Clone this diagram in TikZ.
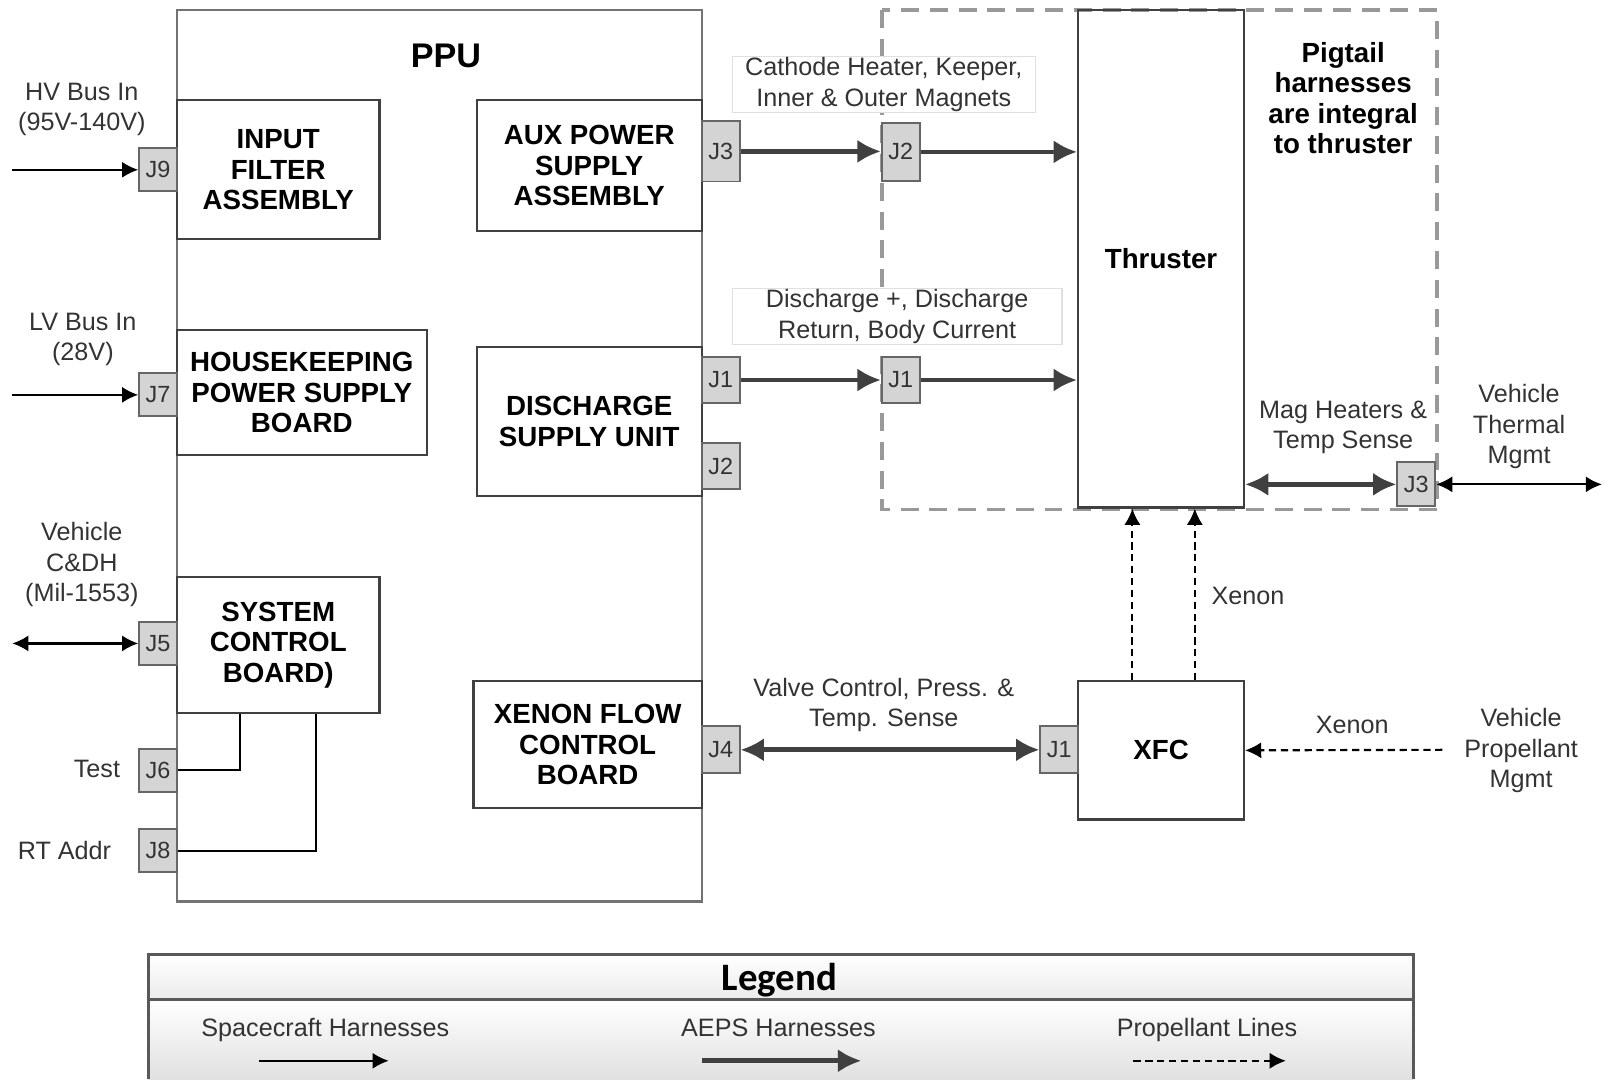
\documentclass[tikz,border=0pt]{standalone}
\usepackage{fontspec}
\setmainfont{Liberation Sans}
\newfontfamily\legendfont{Carlito}
\usetikzlibrary{arrows.meta}

\tikzset{
  board/.style={draw=black!75, line width=0.6pt, align=center, inner sep=0pt,
    font=\fontsize{7.7}{8.5}\selectfont\bfseries},
  jack/.style={draw=black!60, fill=black!17, line width=0.5pt, inner sep=0pt,
    minimum width=0.37cm, minimum height=0.42cm,
    font=\fontsize{6.5}{7}\selectfont, text=black!80},
  lbl/.style={align=center, inner sep=0pt, font=\fontsize{7}{8.5}\selectfont, text=black!80},
  lblbox/.style={lbl, draw=black!12, fill=white, line width=0.4pt},
  harness/.style={line width=0.6pt, -{Latex[length=4.5pt,width=4.5pt]}},
  harnessboth/.style={line width=0.6pt, {Latex[length=4.5pt,width=4.5pt]}-{Latex[length=4.5pt,width=4.5pt]}},
  aeps/.style={line width=1.3pt, black!75, -{Latex[length=6.5pt,width=6.5pt]}},
  aepsboth/.style={line width=1.3pt, black!75, {Latex[length=6.5pt,width=6.5pt]}-{Latex[length=6.5pt,width=6.5pt]}},
  prop/.style={line width=0.6pt, dash pattern=on 2pt off 1.3pt, -{Latex[length=4.5pt,width=4.5pt]}},
}

\begin{document}
\begin{tikzpicture}[x=0.01cm,y=-0.01cm]
  \useasboundingbox (0,0) rectangle (1568,1055);

  % zona pigtail
  \draw[black!40, line width=1pt, dash pattern=on 5pt off 3pt] (862,10) rectangle (1405,498);

  % PPU
  \node[draw=black!55, line width=0.6pt, minimum width=5.13cm, minimum height=8.71cm] (ppu) at (429.5,445.5) {};
  \node[font=\fontsize{9.5}{11}\selectfont\bfseries] (ppulbl) at (436,55) {PPU};

  % placi din PPU
  \node[board, minimum width=1.98cm, minimum height=1.36cm] (ifa) at (272,166) {INPUT\\FILTER\\ASSEMBLY};
  \node[board, minimum width=2.44cm, minimum height=1.22cm] (hkps) at (295,384) {HOUSEKEEPING\\POWER SUPPLY\\BOARD};
  \node[board, minimum width=1.98cm, minimum height=1.33cm] (scb) at (272,630.5) {SYSTEM\\CONTROL\\BOARD)};
  \node[board, minimum width=2.20cm, minimum height=1.28cm] (aux) at (576,162) {AUX POWER\\SUPPLY\\ASSEMBLY};
  \node[board, minimum width=2.20cm, minimum height=1.46cm] (dsu) at (576,412) {DISCHARGE\\SUPPLY UNIT};
  \node[board, minimum width=2.23cm, minimum height=1.24cm] (xfcb) at (574.5,728) {XENON FLOW\\CONTROL\\BOARD};

  % thruster si XFC
  \node[board, minimum width=1.62cm, minimum height=4.86cm] (thr) at (1135,253) {Thruster};
  \node[board, minimum width=1.62cm, minimum height=1.35cm] (xfc) at (1135,733.5) {XFC};

  % conectori
  \node[jack] (j9) at (154.5,166) {J9};
  \node[jack] (j7) at (154.5,386) {J7};
  \node[jack] (j5) at (154.5,629) {J5};
  \node[jack] (j6) at (154.5,753) {J6};
  \node[jack] (j8) at (154.5,831.5) {J8};
  \node[jack, minimum height=0.59cm] (j3p) at (704.5,148) {J3};
  \node[jack, minimum height=0.45cm] (j1p) at (704.5,371.5) {J1};
  \node[jack, minimum height=0.45cm] (j2p) at (704.5,455.5) {J2};
  \node[jack, minimum height=0.46cm] (j4p) at (704.5,733) {J4};
  \node[jack, minimum height=0.57cm] (j2t) at (880.5,148.5) {J2};
  \node[jack, minimum height=0.45cm] (j1t) at (880.5,371.5) {J1};
  \node[jack, minimum height=0.46cm] (j1x) at (1035.5,733) {J1};
  \node[jack, minimum height=0.43cm] (j3t) at (1384.5,473.5) {J3};

  % capete libere
  \coordinate (hvin) at (12,166);
  \coordinate (lvin) at (12,386);
  \coordinate (cdh) at (12,629);
  \coordinate (therm) at (1566,473.5);
  \coordinate (propin) at (1410,733);

  % etichete
  \node[lbl] (hvlbl) at (80,107) {HV Bus In\\(95V-140V)};
  \node[lbl] (lvlbl) at (81,332) {LV Bus In\\(28V)};
  \node[lbl] (cdhlbl) at (80,552) {Vehicle\\C\&DH\\(Mil-1553)};
  \node[lbl, anchor=east] (testlbl) at (118,752) {Test};
  \node[lbl] (rtlbl) at (63,831) {RT Addr};
  \node[lblbox, minimum width=2.96cm, minimum height=0.55cm] (cathlbl) at (864,82.5) {Cathode Heater, Keeper,\\Inner \& Outer Magnets};
  \node[lblbox, minimum width=3.22cm, minimum height=0.55cm] (disclbl) at (877,309.5) {Discharge +, Discharge\\Return, Body Current};
  \node[lbl, font=\fontsize{7.7}{8.5}\selectfont\bfseries, text=black] (piglbl) at (1313,96) {Pigtail\\harnesses\\are integral\\to thruster};
  \node[lbl] (maglbl) at (1313,418) {Mag Heaters \&\\Temp Sense};
  \node[lbl] (thermlbl) at (1485,417) {Vehicle\\Thermal\\Mgmt};
  \node[lbl] (valvelbl) at (864,689) {Valve Control, Press. \&\\Temp. Sense};
  \node[lbl] (xenup) at (1220,583) {Xenon};
  \node[lbl] (xenin) at (1322,709) {Xenon};
  \node[lbl] (proplbl) at (1487,734) {Vehicle\\Propellant\\Mgmt};

  % harnese vehicul
  \draw[harness] (hvin) -- (j9.west);
  \draw[harness] (lvin) -- (j7.west);
  \draw[harnessboth] (cdh) -- (j5.west);
  \draw[harnessboth] (j3t.east) -- (therm);
  \draw[line width=0.6pt] (j6.east) -| ([xshift=-0.37cm]scb.south);
  \draw[line width=0.6pt] (j8.east) -| ([xshift=0.37cm]scb.south);

  % harnese AEPS
  \draw[aeps] (j3p.east) -- (j3p.east -| j2t.west);
  \draw[aeps] (j2t.east) -- (j2t.east -| thr.west);
  \draw[aeps] (j1p.east) -- (j1t.west);
  \draw[aeps] (j1t.east) -- (j1t.east -| thr.west);
  \draw[aepsboth] (j3t.west -| thr.east) -- (j3t.west);
  \draw[aepsboth] (j4p.east) -- (j1x.west);

  % linii propelant
  \draw[prop] ([xshift=-0.28cm]xfc.north) -- ([xshift=-0.28cm]thr.south);
  \draw[prop] ([xshift=0.33cm]xfc.north) -- ([xshift=0.33cm]thr.south);
  \draw[prop] (propin) -- (xfc.east);

  % legenda
  \fill[top color=white, bottom color=black!8] (145,933) rectangle (1382,977);
  \fill[top color=white, bottom color=black!12] (145,977) rectangle (1382,1055);
  \draw[black!65, line width=0.8pt] (145,1055) -- (145,933) -- (1382,933) -- (1382,1055) (145,977) -- (1382,977);
  \node[font=\legendfont\fontsize{10.8}{12}\selectfont\bfseries] (legtitle) at (762,958) {Legend};
  \node[lbl, anchor=base] (legsc) at (318,1013) {Spacecraft Harnesses};
  \node[lbl, anchor=base] (legaeps) at (761,1013) {AEPS Harnesses};
  \node[lbl, anchor=base] (legprop) at (1180,1013) {Propellant Lines};
  \coordinate (sca) at (253,1037);
  \coordinate (scb2) at (380,1037);
  \coordinate (aea) at (686,1037);
  \coordinate (aeb) at (842,1037);
  \coordinate (pra) at (1108,1037);
  \coordinate (prb) at (1257,1037);
  \draw[harness] (sca) -- (scb2);
  \draw[aeps] (aea) -- (aeb);
  \draw[prop] (pra) -- (prb);
\end{tikzpicture}
\end{document}
